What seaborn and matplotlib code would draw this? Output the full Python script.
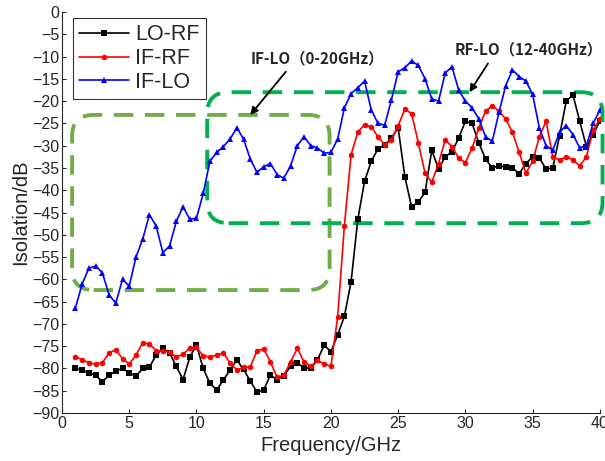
import numpy as np
import pandas as pd
import matplotlib.pyplot as plt
import seaborn as sns
from matplotlib.patches import FancyBboxPatch

# frequency grid (GHz)
freq = [1.0 + 0.5 * i for i in range(79)]

lo_rf = [-80, -80.4, -81, -81.5, -83, -81.5, -80.6, -80, -81, -81.7,
         -80, -79.7, -77, -75.4, -76.5, -79.5, -82.5, -77.5, -74.7, -80,
         -83.3, -84.8, -82.6, -80.3, -78.1, -80.2, -82.8, -85.3, -84.8, -81.5,
         -82.5, -81.6, -79.5, -78.8, -79.8, -80, -78, -74.8, -76.2, -72.5,
         -68.3, -60.5, -46.5, -38, -33.5, -30.7, -29.8, -28.3, -26, -37,
         -43.8, -42.6, -40.5, -31, -35.2, -32.5, -31.4, -28.3, -24.5, -25,
         -29.4, -33, -35, -34.5, -34.8, -35, -36.3, -34, -32.5, -32.8,
         -35.2, -35, -27.8, -20, -18.6, -24.5, -30.2, -27.5, -24.5]

if_rf = [-77.4, -78, -78.7, -79, -78.7, -76.5, -75.8, -77.8, -79, -77,
         -74.2, -74.5, -76, -76, -76.3, -77.4, -76.8, -75.4, -75.2, -77.2,
         -77.4, -77, -76.5, -78.8, -80.3, -79.7, -79.7, -76, -75.6, -78.5,
         -82, -81.5, -78.5, -75.5, -78.5, -79.5, -78.2, -79, -79.5, -68.4,
         -48, -32, -27, -25.3, -25.8, -28, -29.8, -28.7, -25.5, -21.8,
         -22.8, -29.4, -36.2, -38.2, -34, -28.7, -30.2, -32.8, -33.8, -30.5,
         -26, -22.3, -21, -22.3, -24, -27, -31.5, -36.2, -33.5, -28,
         -24.5, -32.5, -33.2, -32.5, -33.2, -34.5, -32.5, -26.5, -24]

if_lo = [-66.4, -61, -57.5, -57, -58.5, -63.5, -65.3, -60, -61.5, -55,
         -51, -45.5, -48, -54, -52.5, -47, -43.7, -46.5, -46.3, -40.7,
         -33.5, -31.5, -30.2, -28.5, -26, -28.5, -33, -36, -34.7, -34,
         -36.5, -37.3, -34.5, -30, -28, -30, -30.5, -31.7, -31.5, -28.5,
         -21.5, -18.3, -17, -15.5, -22, -25, -25.4, -19.7, -13.4, -12.5,
         -11, -12, -15, -19.5, -20, -13.7, -12.3, -17.5, -20, -21.5,
         -24, -28, -29, -22.5, -16.5, -13, -14.5, -15.5, -18.5, -26,
         -30, -31, -27, -25.5, -27.5, -30.5, -30, -25, -22]

series_names = ['LO-RF', 'IF-RF', 'IF-LO']
series_colors = {'LO-RF': '#000000', 'IF-RF': '#ff0000', 'IF-LO': '#0000ff'}
series_markers = {'LO-RF': 's', 'IF-RF': 'o', 'IF-LO': '^'}

df = pd.DataFrame({
    'Frequency': freq * 3,
    'Isolation': lo_rf + if_rf + if_lo,
    'Port': np.repeat(series_names, len(freq)),
})

sns.set_style('ticks')
plt.rcParams['font.family'] = ['Liberation Sans', 'DejaVu Sans']

fig = plt.figure(figsize=(6.05, 4.61), dpi=100)
ax = fig.add_axes([0.1025, 0.104, 0.889, 0.870])

sns.lineplot(data=df, x='Frequency', y='Isolation', hue='Port', style='Port',
             palette=series_colors, markers=series_markers, dashes=False,
             hue_order=series_names, style_order=series_names,
             linewidth=1.2, markersize=4, markeredgewidth=0, ax=ax)

ax.set_xlim(0, 40)
ax.set_ylim(-90, 0)
ax.set_xticks(range(0, 41, 5))
ax.set_yticks(range(-90, 1, 5))
ax.tick_params(labelsize=11.5, direction='in', length=3, pad=2)
ax.set_xlabel('Frequency/GHz', fontsize=14.5, labelpad=4)
ax.set_ylabel('Isolation/dB', fontsize=14.5, labelpad=1)
sns.despine(ax=ax)

# dashed highlight boxes
box1 = FancyBboxPatch((0.75, -62.4), 19.15, 39.3,
                      boxstyle='round,pad=0,rounding_size=1.6', mutation_aspect=3.0,
                      fill=False, ec='#70ad47', lw=2.8, ls=(0, (5, 3)),
                      transform=ax.transData, clip_on=False)
box2 = FancyBboxPatch((10.8, -47.4), 29.4, 29.4,
                      boxstyle='round,pad=0,rounding_size=1.6', mutation_aspect=3.0,
                      fill=False, ec='#00b050', lw=2.8, ls=(0, (5, 3)),
                      transform=ax.transData, clip_on=False)
ax.add_patch(box1)
ax.add_patch(box2)

cjk = ['Noto Sans CJK SC', 'DejaVu Sans']
ax.annotate('IF-LO（0-20GHz）', xy=(14.0, -23.1), xytext=(14.0, -10.4),
            fontsize=11, fontweight='bold', family=cjk, va='center', ha='left',
            arrowprops=dict(arrowstyle='-|>', color='black', lw=1.3,
                            shrinkA=2, shrinkB=0, relpos=(0.3, 0)))
ax.annotate('RF-LO（12-40GHz）', xy=(30.3, -18.0), xytext=(29.2, -8.5),
            fontsize=11, fontweight='bold', family=cjk, va='center', ha='left',
            annotation_clip=False,
            arrowprops=dict(arrowstyle='-|>', color='black', lw=1.3,
                            shrinkA=2, shrinkB=0, relpos=(0.25, 0)))

leg = ax.legend(loc='upper left', bbox_to_anchor=(0.02, 0.985), fontsize=15.5,
                frameon=True, fancybox=False, edgecolor='black',
                handlelength=2.3, handletextpad=0.3, borderpad=0.3,
                labelspacing=0.12, borderaxespad=0)
leg.get_frame().set_linewidth(0.8)

fig.savefig('out.png', dpi=100)
